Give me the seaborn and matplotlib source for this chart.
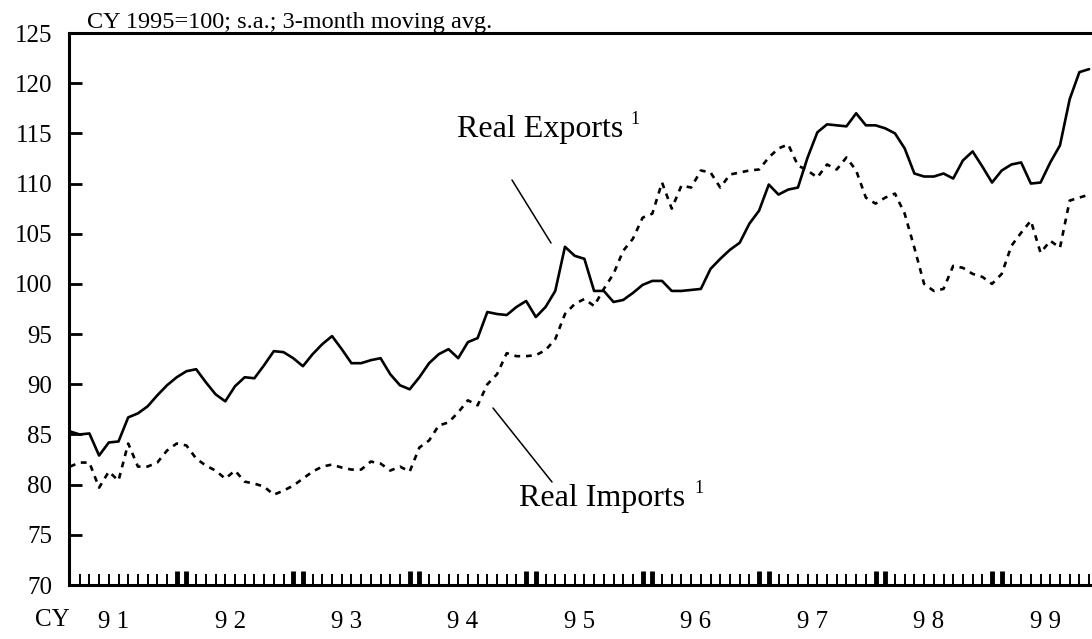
import numpy as np
import pandas as pd
import matplotlib
matplotlib.use("Agg")
import matplotlib.pyplot as plt
import matplotlib.transforms as mtransforms
from matplotlib.lines import Line2D
import seaborn as sns

# ---- data (monthly, Jan 1991 onward; CY1995=100, 3-month moving avg) ----
exports = [85.3, 85.0, 85.1, 82.9, 84.2, 84.3, 86.7, 87.1, 87.8, 88.9, 89.9, 90.7,
           91.3, 91.5, 90.2, 89.0, 88.3, 89.8, 90.7, 90.6, 91.9, 93.3, 93.2, 92.6,
           91.8, 93.0, 94.0, 94.8, 93.5, 92.1, 92.1, 92.4, 92.6, 91.0, 89.9, 89.5,
           90.7, 92.1, 93.0, 93.5, 92.6, 94.2, 94.6, 97.2, 97.0, 96.9, 97.7, 98.3,
           96.7, 97.7, 99.3, 103.7, 102.8, 102.5, 99.3, 99.3, 98.2, 98.4, 99.1, 99.9,
           100.3, 100.3, 99.3, 99.3, 99.4, 99.5, 101.5, 102.5, 103.4, 104.1, 106.0, 107.3,
           109.9, 108.9, 109.4, 109.6, 112.6, 115.1, 115.9, 115.8, 115.7, 117.0, 115.8, 115.8,
           115.5, 115.0, 113.5, 111.0, 110.7, 110.7, 111.0, 110.5, 112.3, 113.2, 111.7, 110.1,
           111.3, 111.9, 112.1, 110.0, 110.1, 112.1, 113.8, 118.4, 121.1, 121.4]
imports = [81.8, 82.2, 82.2, 79.7, 81.3, 80.4, 84.1, 81.8, 81.8, 82.2, 83.4, 84.1,
           83.9, 82.6, 81.9, 81.4, 80.6, 81.4, 80.3, 80.1, 79.8, 79.0, 79.4, 79.9,
           80.6, 81.3, 81.8, 82.0, 81.7, 81.5, 81.5, 82.3, 82.1, 81.4, 81.8, 81.3,
           83.7, 84.4, 85.9, 86.2, 87.2, 88.4, 87.9, 90.0, 91.0, 93.1, 92.8, 92.8,
           92.9, 93.4, 94.5, 97.0, 98.0, 98.5, 97.8, 99.5, 101.0, 103.3, 104.5, 106.6,
           107.0, 110.1, 107.5, 109.8, 109.6, 111.3, 111.1, 109.6, 110.9, 111.1, 111.3, 111.4,
           112.6, 113.5, 113.9, 111.8, 111.3, 110.6, 111.9, 111.4, 112.6, 111.3, 108.6, 108.0,
           108.6, 109.0, 107.0, 103.6, 100.0, 99.3, 99.5, 101.8, 101.6, 101.0, 100.7, 100.0,
           101.0, 103.8, 105.1, 106.3, 103.1, 104.3, 103.6, 108.3, 108.6, 108.9]
months = list(range(len(exports)))
year_labels = ["9 1", "9 2", "9 3", "9 4", "9 5", "9 6", "9 7", "9 8", "9 9"]
y_ticks = list(range(70, 126, 5))

df = pd.DataFrame({"month": months, "Real Exports": exports, "Real Imports": imports})
long = df.melt(id_vars="month", var_name="series", value_name="value")

sns.set_theme(style="white")
plt.rcParams["font.family"] = ["Liberation Serif", "DejaVu Serif"]
plt.rcParams.update({"text.color": "black", "xtick.color": "black",
                     "ytick.color": "black", "axes.labelcolor": "black"})

W, H = 1092, 639
fig = plt.figure(figsize=(W / 100, H / 100), dpi=100)
fx = lambda px: px / W
fy = lambda py: 1 - py / H
ax = fig.add_axes([fx(69), fy(585), 1 - fx(69), fy(33) - fy(585)])

sns.lineplot(data=long, x="month", y="value", style="series",
             dashes={"Real Exports": "", "Real Imports": (2.2, 2.2)},
             color="black", linewidth=1.9, legend=False, ax=ax)

ax.set_xlim(-0.1, 105.3)
ax.set_ylim(70, 125)
ax.set_xlabel("")
ax.set_ylabel("")

for s in ["left", "bottom", "top"]:
    ax.spines[s].set_linewidth(2.2)
    ax.spines[s].set_color("black")
ax.spines["right"].set_visible(False)

ax.set_yticks(y_ticks)
ax.set_yticklabels([str(v) for v in y_ticks])
ax.tick_params(axis="y", direction="in", length=9, width=2, labelsize=18, pad=12,
               labelcolor="black", left=True)

major = []
for k in range(len(year_labels)):
    major += [11 + 12 * k, 12 + 12 * k]
major = [m for m in major if m <= 105]
ax.set_xticks(major)
ax.set_xticklabels([])
ax.set_xticks([m for m in months if m not in major], minor=True)
ax.tick_params(axis="x", which="major", direction="in", length=10, width=3.5,
               bottom=True)
ax.tick_params(axis="x", which="minor", direction="in", length=8, width=1.4,
               bottom=True)

blend = mtransforms.blended_transform_factory(ax.transData, fig.transFigure)
for k, lab in enumerate(year_labels):
    ax.text(4.5 + 12 * k, fy(622), lab, transform=blend,
            ha="center", va="center", fontsize=18)
fig.text(fx(52), fy(620), "CY", ha="center", va="center", fontsize=18)

fig.text(fx(87), fy(28), "CY 1995=100; s.a.; 3-month moving avg.", fontsize=17.5,
         ha="left", va="baseline")

# annotations
fig.text(fx(457), fy(137), "Real Exports", fontsize=23, ha="left", va="baseline")
fig.text(fx(630), fy(124), "1", fontsize=13, ha="left", va="baseline")
fig.add_artist(Line2D([fx(512), fx(551)], [fy(180), fy(243)], color="black", lw=1.1))

fig.text(fx(519), fy(506), "Real Imports", fontsize=23, ha="left", va="baseline")
fig.text(fx(694), fy(493), "1", fontsize=13, ha="left", va="baseline")
fig.add_artist(Line2D([fx(493), fx(552)], [fy(408), fy(482)], color="black", lw=1.1))

fig.savefig("out.png", dpi=100)
